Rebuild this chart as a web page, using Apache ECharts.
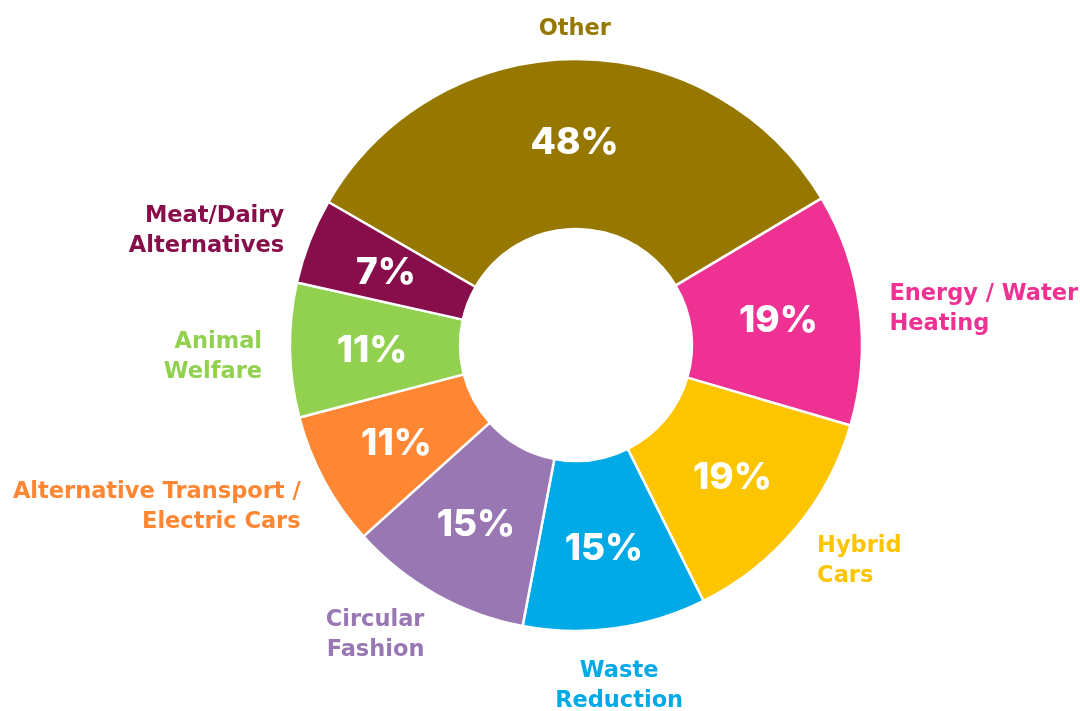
<!DOCTYPE html>
<html>
<head>
<meta charset="utf-8">
<script src="https://cdn.jsdelivr.net/npm/echarts@6/dist/echarts.min.js"></script>
<style>
  html, body { margin: 0; padding: 0; background: #ffffff; }
  #chart { width: 1080px; height: 711px; }
</style>
</head>
<body>
<div id="chart"></div>
<script>
// ---- Data ----
const categories = [
  'Other',
  'Energy / Water\nHeating',
  'Hybrid\nCars',
  'Waste\nReduction',
  'Circular\nFashion',
  'Alternative Transport /\nElectric Cars',
  'Animal\nWelfare',
  'Meat/Dairy\nAlternatives'
];
const values = [48, 19, 19, 15, 15, 11, 11, 7];
const colors = ['#967800', '#EE3192', '#FDC400', '#00AAE7', '#9877B2', '#FF8632', '#92D050', '#870D4B'];

// ---- Layout config ----
const CENTER = [576, 345];
const RADIUS = [116, 286];
const START_ANGLE = 150;
const LABEL_CENTER = [577, 351];
const PCT_FONT = 'Inter, "Noto Sans", "DejaVu Sans", sans-serif';
const NAME_FONT = '"DejaVu Sans", Inter, sans-serif';

const total = values.reduce((a, b) => a + b, 0);
const midAngles = [];
let cum = 0;
values.forEach(v => {
  midAngles.push(START_ANGLE - (cum + v / 2) / total * 360);
  cum += v;
});

const chart = echarts.init(document.getElementById('chart'), null, { renderer: 'canvas' });

const mainData = categories.map((c, i) => ({
  name: c,
  value: values[i],
  itemStyle: { color: colors[i] }
}));
const labelData = categories.map((c, i) => ({
  name: c,
  value: values[i],
  label: { color: colors[i] }
}));

chart.setOption({
  backgroundColor: '#ffffff',
  animation: false,
  series: [
    {
      type: 'pie',
      center: CENTER,
      radius: RADIUS,
      startAngle: START_ANGLE,
      clockwise: true,
      silent: true,
      itemStyle: { borderColor: '#ffffff', borderWidth: 2.5 },
      label: {
        show: true,
        position: 'inside',
        formatter: p => p.value + '%',
        color: '#ffffff',
        fontFamily: PCT_FONT,
        fontWeight: 800,
        fontSize: 37,
        offset: [0, 2]
      },
      labelLine: { show: false },
      data: mainData
    },
    {
      type: 'pie',
      center: CENTER,
      radius: RADIUS,
      startAngle: START_ANGLE,
      clockwise: true,
      silent: true,
      z: 1,
      itemStyle: { color: 'rgba(0,0,0,0)', borderWidth: 0 },
      label: {
        show: true,
        position: 'outside',
        formatter: p => p.name,
        fontFamily: NAME_FONT,
        fontWeight: 'bold',
        fontSize: 22.5,
        lineHeight: 30,
        overflow: 'none',
        width: 400
      },
      labelLine: { show: false },
      labelLayout: function (params) {
        const a = midAngles[params.dataIndex] * Math.PI / 180;
        const cx = Math.cos(a), sy = Math.sin(a);
        const gap = 307 + 8 * Math.abs(cx);
        const x = LABEL_CENTER[0] + gap * cx;
        const y = LABEL_CENTER[1] - gap * sy;
        if (Math.abs(cx) < 0.3) {
          return { x: x, y: y, align: 'center', verticalAlign: sy > 0 ? 'bottom' : 'top' };
        }
        const h = params.labelRect ? params.labelRect.height : 60;
        return { x: x, y: y - sy * h / 4, align: cx > 0 ? 'left' : 'right', verticalAlign: 'middle' };
      },
      data: labelData
    }
  ]
});
</script>
</body>
</html>
